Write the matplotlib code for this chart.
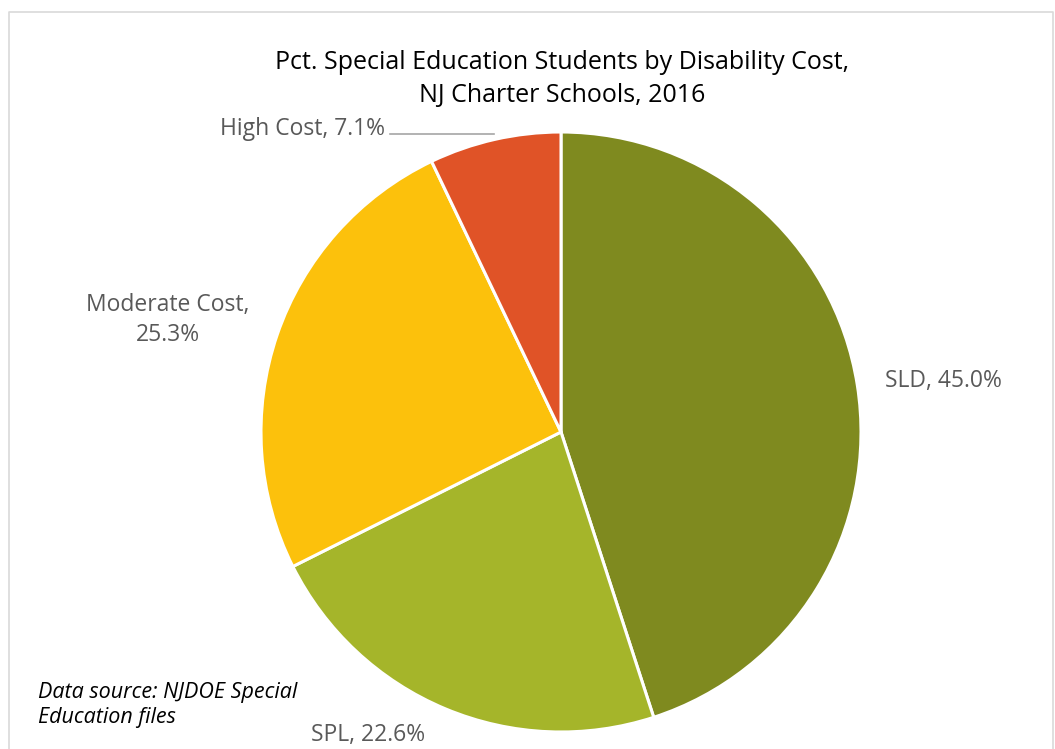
import matplotlib
matplotlib.use("Agg")
import matplotlib.pyplot as plt
from matplotlib.lines import Line2D

categories = ["SLD", "SPL", "Moderate Cost", "High Cost"]
values = [45.0, 22.6, 25.3, 7.1]
colors = ["#7F8A1F", "#A5B52A", "#FCC10C", "#E05327"]

plt.rcParams['font.family'] = ['Open Sans', 'DejaVu Sans']

W, H = 1055, 749
fig = plt.figure(figsize=(W / 100, H / 100), dpi=100)

# outer border
fig.add_artist(Line2D([9 / W, 9 / W, 1053 / W, 1053 / W], [-0.01, 1 - 12 / H, 1 - 12 / H, -0.01],
                      transform=fig.transFigure, color="#D9D9D9", lw=1.2))

cx, cy, r = 561, 432, 300
ax = fig.add_axes([(cx - r) / W, (H - cy - r) / H, 2 * r / W, 2 * r / H])
ax.pie(values, colors=colors, startangle=90, counterclock=False, radius=1,
       wedgeprops=dict(edgecolor="white", linewidth=2.2))
ax.set_xlim(-1, 1)
ax.set_ylim(-1, 1)
ax.set_aspect("equal")
ax.axis("off")

def d(px, py):
    return ((px - cx) / r, (cy - py) / r)

lab = [f"{c}, {v:.1f}%" for c, v in zip(categories, values)]
gray = "#595959"
fs = 16.5
ax.text(*d(943, 381), lab[0], ha="center", va="center", fontsize=fs, color=gray, clip_on=False)
ax.text(*d(368, 735), lab[1], ha="center", va="center", fontsize=fs, color=gray, clip_on=False)
ax.text(*d(168, 320), f"{categories[2]},\n{values[2]:.1f}%", ha="center", va="center",
        fontsize=fs, color=gray, clip_on=False, linespacing=1.35)
ax.text(*d(385, 129), lab[3], ha="right", va="center", fontsize=fs, color=gray, clip_on=False)
x0, y0 = d(390, 134)
x1, y1 = d(494, 134)
ax.plot([x0, x1], [y0, y1], color="#A6A6A6", lw=1.2, clip_on=False)

fig.text(562 / W, 1 - 79 / H, "Pct. Special Education Students by Disability Cost,\nNJ Charter Schools, 2016",
         ha="center", va="center", fontsize=18, color="black", linespacing=1.4)

fig.text(38 / W, 1 - 705 / H, "Data source: NJDOE Special\nEducation files", ha="left", va="center",
         fontsize=15.5, style="italic", color="black", linespacing=1.25)

fig.savefig("out.png", dpi=100, facecolor="white")
